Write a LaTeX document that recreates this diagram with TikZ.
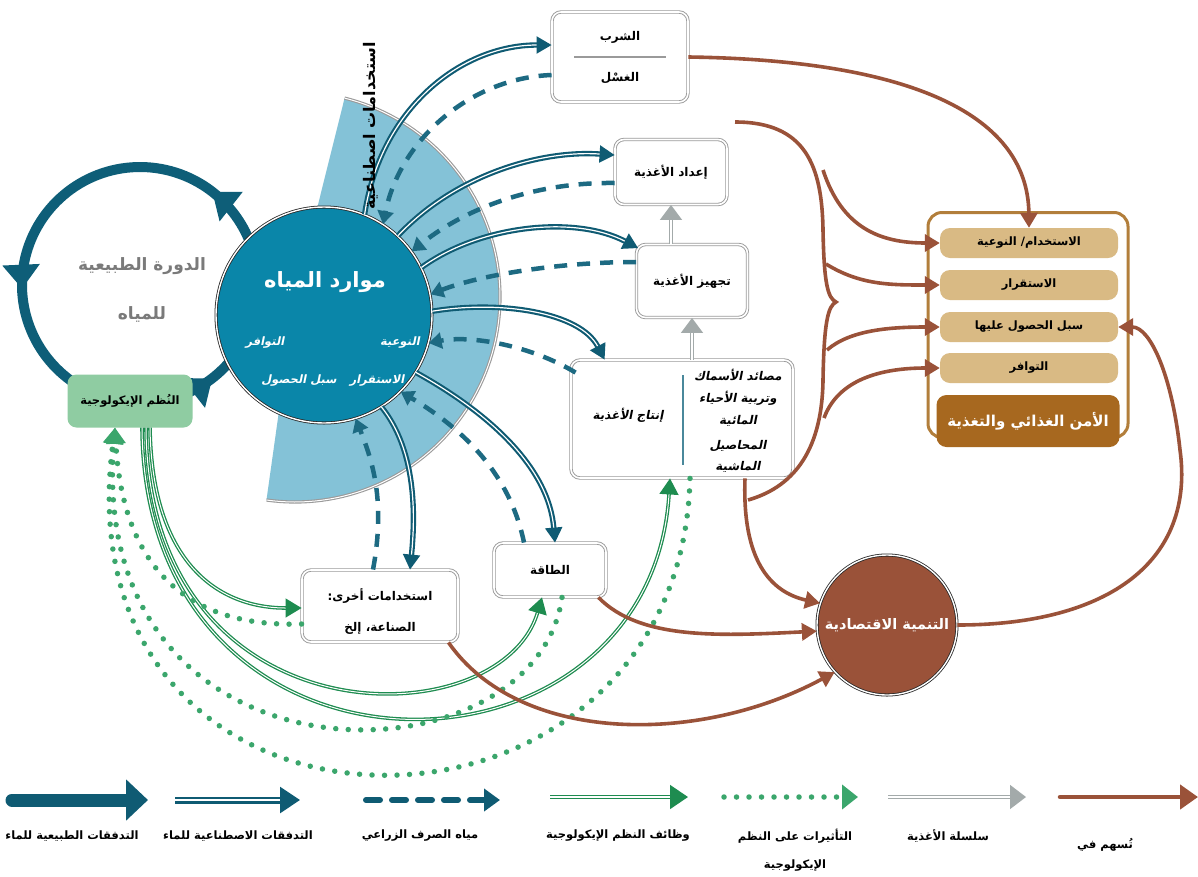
\documentclass[tikz,border=0pt]{standalone}
\usepackage{fontspec}
\usetikzlibrary{arrows.meta,decorations.markings,calc}
\TeXXeTstate=1
\newfontfamily\arabicfont[Script=Arabic]{DejaVu Sans}
\newfontfamily\arabicslfont[Script=Arabic,FakeSlant=0.2]{DejaVu Sans}
\newcommand{\artxt}[1]{{\arabicfont\bfseries\beginR #1\endR}}
\newcommand{\arsl}[1]{{\arabicslfont\bfseries\beginR #1\endR}}
\newcommand{\fsz}[1]{\fontsize{#1}{#1}\selectfont}
\definecolor{wdark}{HTML}{0F5B73}
\definecolor{wdash}{HTML}{1D6A82}
\definecolor{wfill}{HTML}{0A86A9}
\definecolor{wedgec}{HTML}{84C2D7}
\definecolor{ringc}{HTML}{0E5E78}
\definecolor{gline}{HTML}{1E8C50}
\definecolor{gdot}{HTML}{3BA66C}
\definecolor{gbox}{HTML}{8FCCA2}
\definecolor{brn}{HTML}{9A5239}
\definecolor{goldc}{HTML}{B27E3B}
\definecolor{tanc}{HTML}{D9BA84}
\definecolor{goldd}{HTML}{A7681F}
\definecolor{fgray}{HTML}{A3AAAA}
\definecolor{boxgray}{HTML}{9A9A9A}
\definecolor{ringtxt}{HTML}{7A7A7A}
\begin{document}
\begin{tikzpicture}[x=1pt,y=-1pt,
  box/.style={draw=boxgray, double=white, double distance=1.6pt, line width=0.9pt,
    rounded corners=9pt, fill=white, inner sep=0pt},
  lbl/.style={font=\fsz{12}, text=black, inner sep=1pt},
  art/.style={draw=wdark, double=white, double distance=1.2pt, line width=2.1pt,
    -{Triangle[width=17pt,length=15pt]}},
  dashflow/.style={draw=wdash, line width=4.5pt, dash pattern=on 13pt off 10pt,
    -{Triangle[width=16pt,length=13pt]}},
  gfun/.style={draw=gline, double=white, double distance=1pt, line width=1.3pt,
    -{Triangle[width=19pt,length=16pt]}},
  gdotted/.style={draw=gdot, line width=5.5pt, line cap=round, dash pattern=on 0pt off 12.5pt,
    -{Triangle[width=19pt,length=16pt]}},
  contrib/.style={draw=brn, line width=3.6pt, -{Triangle[width=17pt,length=15pt]}},
  brnline/.style={draw=brn, line width=3.6pt},
  chain/.style={draw=fgray, double=white, double distance=1.4pt, line width=1.5pt,
    -{Triangle[width=22pt,length=15pt]}},
  bar/.style={fill=tanc, rounded corners=10pt, minimum width=178pt, minimum height=30pt,
    inner sep=0pt, font=\fsz{11.5}},
  legtxt/.style={font=\fsz{11.5}, text=black, inner sep=1pt}
]
\useasboundingbox (0,0) rectangle (1198,876);
\fill[white] (0,0) rectangle (1198,876);

% ---------- wedge of artificial uses
\fill[wedgec] (295,297) -- plot[domain=-76:98,samples=90] ({295+205*cos(\x)},{297+205*sin(\x)}) -- cycle;
\draw[boxgray, line width=1.1pt, double=white, double distance=1pt]
  plot[domain=-76:98,samples=90] ({295+205*cos(\x)},{297+205*sin(\x)});

% ---------- natural water cycle ring
\draw[ringc, line width=10pt, postaction={decorate},
  decoration={markings,
    mark=at position 0.145 with {\arrow{Triangle[width=36pt,length=24pt]}},
    mark=at position 0.505 with {\arrow{Triangle[width=36pt,length=24pt]}},
    mark=at position 0.855 with {\arrow{Triangle[width=36pt,length=24pt]}}}]
  plot[domain=0:360,samples=150] ({140+118*cos(-\x)},{285+118*sin(-\x)});
\node[font=\fsz{17}, text=ringtxt] (cyc1) at (142,266) {\artxt{الدورة الطبيعية}};
\node[font=\fsz{17}, text=ringtxt] (cyc2) at (142,314) {\artxt{للمياه}};

% ---------- water resources circle
\node[circle, fill=wfill, draw=black!85, line width=0.8pt, double=white, double distance=1.4pt,
  minimum size=216pt, inner sep=0pt] (W) at (324,315) {};
\node[text=white, font=\fsz{21}] (Wt) at (325,282) {\artxt{موارد المياه}};
\node[text=white, font=\fsz{11.5}] (Wq) at (400,343) {\arsl{النوعية}};
\node[text=white, font=\fsz{11.5}] (Wa) at (265,343) {\arsl{التوافر}};
\node[text=white, font=\fsz{11.5}] (Ws) at (377,381) {\arsl{الاستقرار}};
\node[text=white, font=\fsz{11.5}] (Wc) at (299,381) {\arsl{سبل الحصول}};

% ---------- ecosystems box
\node[fill=gbox, rounded corners=9pt, minimum width=125pt, minimum height=53pt, inner sep=0pt,
  font=\fsz{11.5}] (eco) at (130,401) {\artxt{النُظم الإيكولوجية}};

% ---------- use boxes
\node[box, minimum width=136pt, minimum height=90pt] (drink) at (620,57) {};
\node[lbl] (drinkA) at (620,37) {\artxt{الشرب}};
\node[lbl] (drinkB) at (620,78) {\artxt{الغسْل}};
\draw[boxgray, line width=1.6pt] ($(drink.center)+(-46,0)$) -- ($(drink.center)+(46,0)$);

\node[box, minimum width=112pt, minimum height=65pt, font=\fsz{12}] (prep) at (671,172) {\artxt{إعداد الأغذية}};
\node[box, minimum width=111pt, minimum height=73pt, font=\fsz{12}] (proc) at (692,281) {\artxt{تجهيز الأغذية}};

\node[box, minimum width=222pt, minimum height=118pt] (prod) at (682,419) {};
\draw[wdash!80, line width=2pt] ($(prod.center)+(1,-44)$) -- ($(prod.center)+(1,46)$);
\node[lbl] (prodL) at (628,415) {\arsl{إنتاج الأغذية}};
\node[lbl] (prod1) at (738,375) {\arsl{مصائد الأسماك}};
\node[lbl] (prod2) at (738,398) {\arsl{وتربية الأحياء}};
\node[lbl] (prod3) at (738,421) {\arsl{المائية}};
\node[lbl] (prod4) at (738,446) {\arsl{المحاصيل}};
\node[lbl] (prod5) at (738,467) {\arsl{الماشية}};

\node[box, minimum width=156pt, minimum height=72pt] (other) at (380,606) {};
\node[lbl] (otherA) at (380,596) {\artxt{استخدامات أخرى:}};
\node[lbl] (otherB) at (380,628) {\artxt{الصناعة، إلخ}};
\node[box, minimum width=112pt, minimum height=54pt, font=\fsz{12}] (energy) at (550,570) {\artxt{الطاقة}};

% ---------- food chain
\draw[chain] (prep.south |- proc.north) -- (prep.south);
\draw[chain] (prod.north -| proc.south) -- (proc.south);

% ---------- artificial flows and return drainage
\draw[art] (W.68) .. controls (380,110) and (460,45) .. ($(drink.west)+(0,-12)$);
\draw[dashflow] ($(drink.west)+(0,18)$) .. controls (470,78) and (400,140) .. (W.57);
\draw[art] (W.47) .. controls (455,175) and (540,150) .. ($(prep.west)+(0,-17)$);
\draw[dashflow] ($(prep.west)+(0,11)$) .. controls (540,182) and (470,205) .. (W.36);
\draw[art] (W.26) .. controls (480,225) and (575,215) .. ($(proc.north west)+(2,4)$);
\draw[dashflow] ($(proc.west)+(0,-19)$) .. controls (560,262) and (480,275) .. (W.11);
\draw[art] (W.2) .. controls (500,300) and (580,312) .. ($(prod.north west)+(34,0)$);
\draw[dashflow] ($(prod.north west)+(5,13)$) .. controls (530,345) and (470,335) .. (W.-15);
\draw[art] (W.-32) .. controls (475,405) and (548,460) .. ($(energy.north)+(5,0)$);
\draw[dashflow] ($(energy.north)+(-26,0)$) .. controls (510,475) and (465,430) .. (W.-45);
\draw[art] (W.-58) .. controls (408,440) and (418,490) .. ($(other.north)+(30,0)$);
\draw[dashflow] ($(other.north)+(-7,0)$) .. controls (386,500) and (372,460) .. (W.-73);

% ---------- label of the wedge
\node[rotate=90, font=\fsz{16}, inner sep=0pt] (wlab) at (371,126) {\artxt{استخدامات اصطناعية}};

% ---------- ecosystem functions (green double) and impacts (dotted)
\draw[gfun] ($(eco.south)+(20,0)$) .. controls (152,565) and (220,608) .. ($(other.west)+(0,2)$);
\draw[gfun] ($(eco.south)+(16,0)$) .. controls (148,745) and (500,740) .. ($(energy.south)+(-8,0)$);
\draw[gfun] ($(eco.south)+(12,0)$) .. controls (145,810) and (650,800) .. ($(prod.south)+(-12,0)$);
\draw[gdotted] ($(other.west)+(0,18)$) .. controls (180,628) and (122,560) .. ($(eco.south)+(-15,0)$);
\draw[gdotted] ($(energy.south)+(12,0)$) .. controls (535,790) and (85,800) .. ($(eco.south)+(-15,0)$);
\draw[gdotted] ($(prod.south)+(8,0)$) .. controls (680,880) and (55,880) .. ($(eco.south)+(-15,0)$);

% ---------- food security and nutrition
\node[draw=goldc, line width=3pt, rounded corners=14pt, fill=white, minimum width=200pt,
  minimum height=225pt, inner sep=0pt] (frame) at (1028,325) {};
\node[bar] (bar1) at (1029,243) {\artxt{الاستخدام/ النوعية}};
\node[bar] (bar2) at (1029,285) {\artxt{الاستقرار}};
\node[bar] (bar3) at (1029,327) {\artxt{سبل الحصول عليها}};
\node[bar] (bar4) at (1029,368) {\artxt{التوافر}};
\node[fill=goldd, rounded corners=10pt, minimum width=183pt, minimum height=52pt, inner sep=0pt,
  text=white, font=\fsz{15}] (fsn) at (1028,421) {\artxt{الأمن الغذائي والتغذية}};

% ---------- economic development
\node[circle, fill=brn, draw=black!85, line width=0.8pt, double=white, double distance=1.4pt,
  minimum size=140pt, inner sep=0pt, text=white, font=\fsz{14.5}] (econ) at (887,625) {\artxt{التنمية الاقتصادية}};

% ---------- contributions
\coordinate (braceTop) at (735,122);
\coordinate (braceMid) at (836,302);
\coordinate (braceBot) at (748,500);
\coordinate (f1) at (823,170);
\coordinate (f2) at (826,264);
\coordinate (f3) at (827,350);
\coordinate (f4) at (824,418);
\draw[contrib] (drink.east) .. controls (900,60) and (1028,110) .. (bar1.north);
\draw[brnline] (braceTop) .. controls (805,122) and (822,165) .. (823,230)
  .. controls (824,285) and (828,298) .. (braceMid)
  .. controls (828,306) and (824,322) .. (823,380)
  .. controls (822,455) and (790,488) .. (braceBot);
\draw[contrib] (f1) .. controls (842,228) and (880,243) .. (bar1.west);
\draw[contrib] (f2) .. controls (860,285) and (890,285) .. (bar2.west);
\draw[contrib] (f3) .. controls (850,330) and (890,327) .. (bar3.west);
\draw[contrib] (f4) .. controls (838,380) and (880,368) .. (bar4.west);
\draw[contrib] ($(prod.south)+(63,0)$) .. controls (742,560) and (770,592) .. (econ.162);
\draw[contrib] ($(energy.south east)+(-8,0)$) .. controls (640,640) and (720,636) .. (econ.185);
\draw[contrib] ($(other.south east)+(-10,0)$) .. controls (520,745) and (700,745) .. (econ.222);
\draw[contrib] (econ.east) .. controls (1110,625) and (1195,560) .. (1180,450)
  .. controls (1172,375) and (1150,327) .. (bar3.east);

% ---------- legend
\coordinate (l1a) at (12,800);  \coordinate (l1b) at (148,800);
\coordinate (l2a) at (175,800); \coordinate (l2b) at (300,800);
\coordinate (l3a) at (366,800); \coordinate (l3b) at (500,800);
\coordinate (l4a) at (550,797); \coordinate (l4b) at (688,797);
\coordinate (l5a) at (724,797); \coordinate (l5b) at (858,797);
\coordinate (l6a) at (888,797); \coordinate (l6b) at (1026,797);
\coordinate (l7a) at (1060,797); \coordinate (l7b) at (1198,797);
\draw[wdark, line width=13pt, line cap=round, -{Triangle[width=40pt,length=22pt]}] (l1a) -- (l1b);
\draw[draw=wdark, double=white, double distance=1.8pt, line width=2.6pt,
  -{Triangle[width=26pt,length=20pt]}] (l2a) -- (l2b);
\draw[draw=wdark, line width=6pt, line cap=round, dash pattern=on 14pt off 12pt,
  -{Triangle[width=22pt,length=16pt]}] (l3a) -- (l3b);
\draw[gfun, line width=1.6pt, double distance=1.4pt, -{Triangle[width=24pt,length=18pt]}] (l4a) -- (l4b);
\draw[gdotted, -{Triangle[width=24pt,length=16pt]}] (l5a) -- (l5b);
\draw[chain, -{Triangle[width=24pt,length=16pt]}] (l6a) -- (l6b);
\draw[brn, line width=4.5pt, line cap=round, -{Triangle[width=24pt,length=18pt]}] (l7a) -- (l7b);
\node[legtxt] (t1) at (72,836) {\artxt{التدفقات الطبيعية للماء}};
\node[legtxt] (t2) at (238,836) {\artxt{التدفقات الاصطناعية للماء}};
\node[legtxt] (t3) at (420,836) {\artxt{مياه الصرف الزراعي}};
\node[legtxt] (t4) at (618,836) {\artxt{وظائف النظم الإيكولوجية}};
\node[legtxt] (t5) at (795,836) {\artxt{التأثيرات على النظم}};
\node[legtxt] (t5b) at (795,866) {\artxt{الإيكولوجية}};
\node[legtxt] (t6) at (948,836) {\artxt{سلسلة الأغذية}};
\node[legtxt] (t7) at (1105,845) {\artxt{تُسهم في}};
\end{tikzpicture}
\end{document}
